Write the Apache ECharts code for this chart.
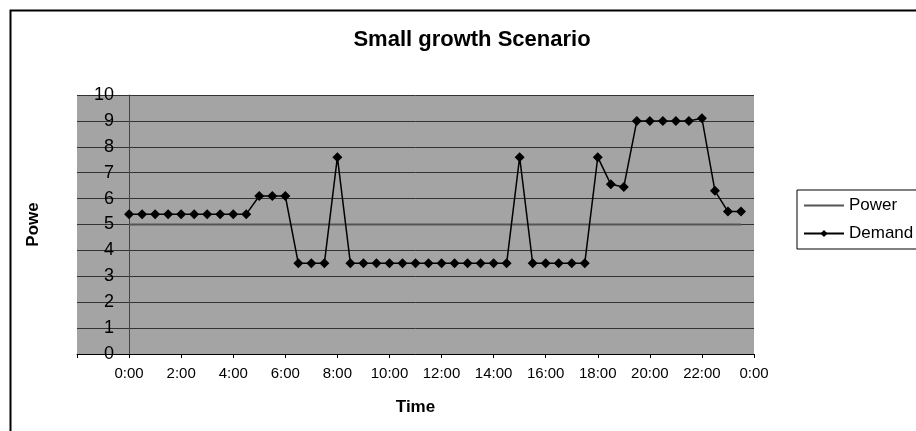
<!DOCTYPE html>
<html>
<head>
<meta charset="utf-8">
<script src="https://cdn.jsdelivr.net/npm/echarts@6/dist/echarts.min.js"></script>
<style>
  html, body { margin: 0; padding: 0; background: #fff; }
  #chart { width: 916px; height: 431px; }
</style>
</head>
<body>
<div id="chart"></div>
<script>
// 시간 (30분 간격)
const times = [
  '0:00', '0:30', '1:00', '1:30', '2:00', '2:30', '3:00', '3:30',
  '4:00', '4:30', '5:00', '5:30', '6:00', '6:30', '7:00', '7:30',
  '8:00', '8:30', '9:00', '9:30', '10:00', '10:30', '11:00', '11:30',
  '12:00', '12:30', '13:00', '13:30', '14:00', '14:30', '15:00', '15:30',
  '16:00', '16:30', '17:00', '17:30', '18:00', '18:30', '19:00', '19:30',
  '20:00', '20:30', '21:00', '21:30', '22:00', '22:30', '23:00', '23:30'
];

const powerValues = [
  5, 5, 5, 5, 5, 5, 5, 5, 5, 5, 5, 5, 5, 5, 5, 5,
  5, 5, 5, 5, 5, 5, 5, 5, 5, 5, 5, 5, 5, 5, 5, 5,
  5, 5, 5, 5, 5, 5, 5, 5, 5, 5, 5, 5, 5, 5, 5, 5
];

const demandValues = [
  5.4, 5.4, 5.4, 5.4, 5.4, 5.4, 5.4, 5.4, 5.4, 5.4,
  6.1, 6.1, 6.1,
  3.5, 3.5, 3.5,
  7.6,
  3.5, 3.5, 3.5, 3.5, 3.5, 3.5, 3.5, 3.5, 3.5, 3.5, 3.5, 3.5, 3.5,
  7.6,
  3.5, 3.5, 3.5, 3.5, 3.5,
  7.6, 6.55, 6.45,
  9.0, 9.0, 9.0, 9.0, 9.0, 9.1,
  6.3, 5.5, 5.5
];

const toHours = t => {
  const [h, m] = t.split(':').map(Number);
  return h + m / 60;
};

const powerData = times.map((t, i) => [toHours(t), powerValues[i]]);
const demandData = times.map((t, i) => [toHours(t), demandValues[i]]);

const chart = echarts.init(document.getElementById('chart'));

// 그리드: x축은 -2:00 부터 시작, y축 라벨은 0:00 위치 옆에 표시
const gridLeft = 77;
const zeroOffset = 52; // -2:00 ~ 0:00 폭

chart.setOption({
  animation: false,
  backgroundColor: '#fff',
  title: {
    text: 'Small growth Scenario',
    left: 467,
    top: 24,
    textAlign: 'center',
    textStyle: { fontFamily: 'Liberation Sans', fontSize: 22, fontWeight: 'bold', color: '#000' }
  },
  legend: {
    orient: 'vertical',
    left: 797,
    top: 190,
    itemWidth: 40,
    itemHeight: 9,
    itemGap: 11,
    padding: [7, 40, 7, 6],
    borderColor: '#000',
    borderWidth: 1,
    textStyle: { fontFamily: 'Liberation Sans', fontSize: 17, color: '#000' },
    data: [
      { name: 'Power', itemStyle: { opacity: 0 } },
      { name: 'Demand' }
    ]
  },
  grid: {
    left: gridLeft,
    right: 162,
    top: 95,
    bottom: 77,
    containLabel: false,
    outerBoundsMode: 'none',
    show: true,
    backgroundColor: '#a4a4a4',
    borderWidth: 0
  },
  xAxis: {
    type: 'value',
    min: -2,
    max: 24,
    interval: 2,
    name: 'Time',
    nameLocation: 'middle',
    nameGap: 45,
    nameTextStyle: { fontFamily: 'Liberation Sans', fontSize: 17, fontWeight: 'bold', color: '#000' },
    axisLine: { lineStyle: { color: '#000', width: 1 } },
    axisTick: { show: true, inside: false, length: 4, lineStyle: { color: '#000' } },
    axisLabel: {
      fontFamily: 'Liberation Sans',
      fontSize: 15,
      color: '#000',
      margin: 12,
      formatter: v => (v < 0 ? '' : (v % 24) + ':00')
    },
    splitLine: { show: false }
  },
  yAxis: {
    type: 'value',
    min: 0,
    max: 10,
    interval: 1,
    name: 'Powe',
    nameLocation: 'middle',
    nameRotate: 90,
    nameGap: 35,
    nameTextStyle: { fontFamily: 'Liberation Sans', fontSize: 17, fontWeight: 'bold', color: '#000' },
    axisLine: { show: true, onZero: true, lineStyle: { color: '#444', width: 1 } },
    axisTick: { show: false },
    axisLabel: { fontFamily: 'Liberation Sans', fontSize: 18, color: '#000', margin: 15 - zeroOffset },
    splitLine: { show: true, lineStyle: { color: '#333', width: 1 } }
  },
  graphic: [
    {
      type: 'rect',
      left: 8,
      top: 8,
      shape: { width: 1000, height: 1000 },
      style: { fill: 'none', stroke: '#000', lineWidth: 2 },
      z: 100
    }
  ],
  series: [
    {
      name: 'Power',
      type: 'line',
      data: powerData,
      showSymbol: false,
      lineStyle: { color: '#555', width: 2 },
      itemStyle: { color: '#555' }
    },
    {
      name: 'Demand',
      type: 'line',
      data: demandData,
      symbol: 'diamond',
      symbolSize: 10,
      lineStyle: { color: '#000', width: 1.5 },
      itemStyle: { color: '#000' }
    }
  ]
});
</script>
</body>
</html>
